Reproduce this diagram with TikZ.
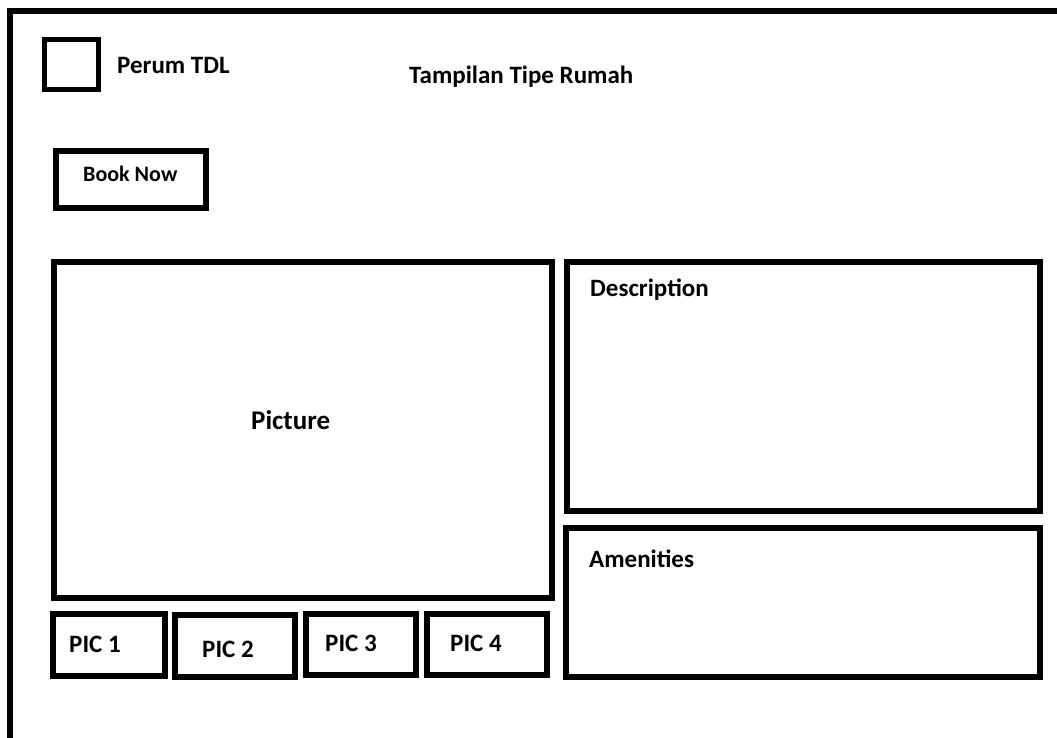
\documentclass[tikz,border=0pt]{standalone}
\usepackage{fontspec}
\setmainfont{Carlito}
\usetikzlibrary{positioning}

\begin{document}
\begin{tikzpicture}[
        x=1pt, y=-1pt,
        frame/.style={draw=black, line width=6pt, line cap=rect},
        box/.style={rectangle, draw=black, line width=5.5pt, fill=white, inner sep=0pt},
        txt/.style={font=\bfseries\fontsize{25}{30}\selectfont, inner sep=0pt, anchor=base west},
    ]
        \useasboundingbox (0,0) rectangle (1057,738);

        % outer page frame
        \draw[frame] (10,745) -- (10,11) -- (1065,11);

        % header
        \node[box, minimum width=54pt, minimum height=50pt] (logo) at (71.5, 64.5) {};
        \node[txt] (brand) at (117, 74) {Perum TDL};
        \node[txt] (title) at (409, 84) {Tampilan Tipe Rumah};

        \node[box, minimum width=150pt, minimum height=57pt] (book) at (131, 179.5) {};
        \node[txt, font=\bfseries\fontsize{22}{26}\selectfont] (booktxt) at (83, 182) {Book Now};

        % main panels
        \node[box, minimum width=498pt, minimum height=336pt] (picture) at (303, 430) {};
        \node[txt, font=\bfseries\fontsize{27}{32}\selectfont] (picturetxt) at (251, 429) {Picture};

        \node[box, minimum width=473pt, minimum height=249pt] (desc) at (803.5, 386.5) {};
        \node[txt] (desctxt) at (590, 296) {Description};

        \node[box, minimum width=474pt, minimum height=149pt] (amen) at (803, 602.5) {};
        \node[txt] (amentxt) at (589, 567) {Amenities};

        % thumbnails
        \node[box, minimum width=112pt, minimum height=62pt] (pic1) at (109, 645) {};
        \node[box, minimum width=120pt, minimum height=62pt] (pic2) at (235, 646) {};
        \node[box, minimum width=110pt, minimum height=61pt] (pic3) at (361, 644.5) {};
        \node[box, minimum width=120pt, minimum height=61pt] (pic4) at (487, 644.5) {};
        \node[txt] (pic1txt) at (69, 652) {PIC 1};
        \node[txt] (pic2txt) at (202, 657) {PIC 2};
        \node[txt] (pic3txt) at (325, 651) {PIC 3};
        \node[txt] (pic4txt) at (450, 651) {PIC 4};

    \end{tikzpicture}
\end{document}
